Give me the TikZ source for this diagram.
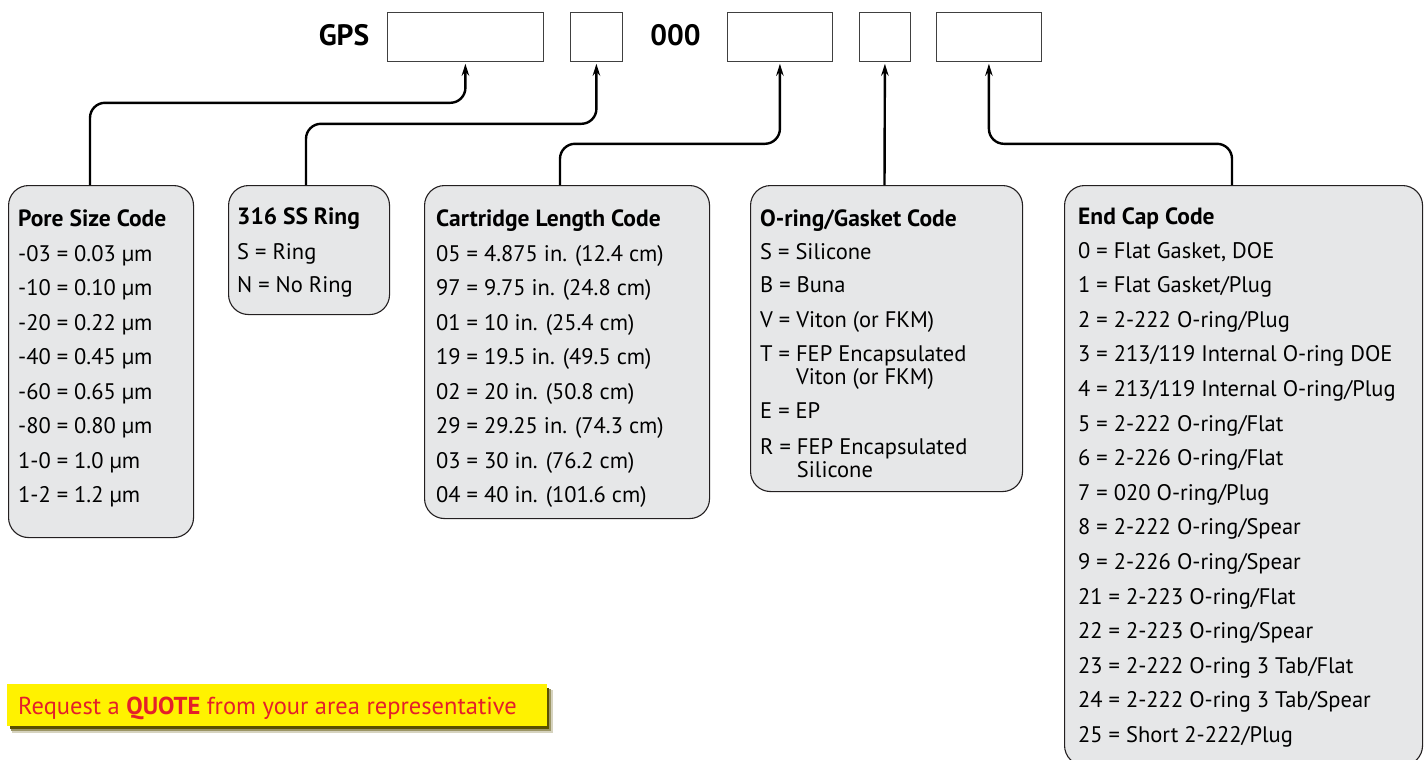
\documentclass[tikz,border=0pt]{standalone}
\usepackage{fontspec}
\setmainfont{PT Sans}
\usetikzlibrary{arrows.meta,calc}
\definecolor{boxgray}{HTML}{E6E7E8}
\definecolor{boxline}{HTML}{231F20}
\definecolor{quoteyellow}{HTML}{FFF200}
\definecolor{quotered}{HTML}{E4202A}
\definecolor{shadowol}{HTML}{5A5000}
\begin{document}
\begin{tikzpicture}[x=1pt,y=-1pt,
  codebox/.style={draw=boxline,line width=1.1pt,fill=boxgray,rounded corners=20pt,anchor=north west,inner sep=0pt},
  slot/.style={draw=black!75,line width=0.8pt,anchor=north west,inner sep=0pt,minimum height=49pt},
  conn/.style={line width=2.4pt,rounded corners=15pt,-{Stealth[length=12pt,width=7.5pt]}},
  ttl/.style={anchor=base west,inner sep=0pt,font=\fontsize{23.5}{28}\selectfont\bfseries},
  ln/.style={anchor=base west,inner sep=0pt,font=\fontsize{22.5}{27}\selectfont},
  big/.style={anchor=base,inner sep=0pt,font=\fontsize{29.5}{34}\selectfont\bfseries}]
\useasboundingbox (0,0) rectangle (1424,760);
% top code row
\node[big] (gps) at (344,46) {GPS};
\node[slot,minimum width=156pt] (b1) at (387,12) {};
\node[slot,minimum width=52pt] (b2) at (570,12) {};
\node[big] (zero) at (675.5,46) {000};
\node[slot,minimum width=105pt] (b3) at (727,12) {};
\node[slot,minimum width=51pt] (b4) at (859,12) {};
\node[slot,minimum width=105pt] (b5) at (936,12) {};
% code boxes
\node[codebox,minimum width=185pt,minimum height=352pt] (pore) at (8,185) {};
\node[codebox,minimum width=161pt,minimum height=129pt] (ring) at (228,185) {};
\node[codebox,minimum width=285pt,minimum height=333pt] (cart) at (424,185) {};
\node[codebox,minimum width=272pt,minimum height=306pt] (oring) at (750,185) {};
\node[codebox,minimum width=358pt,minimum height=580pt] (cap) at (1064,185) {};
% connectors
\coordinate (s1) at (90,185);
\coordinate (s2) at (306,185);
\coordinate (s3) at (560,185);
\coordinate (s4) at (884.5,185);
\coordinate (s5) at (1232,185);
\draw[conn] (s1) |- ($(b1.south)+(0,41)$) -- ([yshift=-2pt]b1.south);
\draw[conn] (s2) |- ($(b2.south)+(0,62)$) -- ([yshift=-2pt]b2.south);
\draw[conn] (s3) |- ($(b3.south)+(0,82)$) -- ([yshift=-2pt]b3.south);
\draw[conn] (s4) -- ([yshift=-2pt]b4.south);
\draw[conn] (s5) |- ($(b5.south)+(0,82)$) -- ([yshift=-2pt]b5.south);
% Pore size
\node[ttl] (pt) at (18,226) {Pore Size Code};
\node[ln] (p1) at (18,261) {-03 = 0.03 µm};
\node[ln] (p2) at (18,295.5) {-10 = 0.10 µm};
\node[ln] (p3) at (18,330) {-20 = 0.22 µm};
\node[ln] (p4) at (18,364.5) {-40 = 0.45 µm};
\node[ln] (p5) at (18,399) {-60 = 0.65 µm};
\node[ln] (p6) at (18,433.5) {-80 = 0.80 µm};
\node[ln] (p7) at (18,468) {1-0 = 1.0 µm};
\node[ln] (p8) at (18,502.5) {1-2 = 1.2 µm};
% 316 SS ring
\node[ttl] (rt) at (237,224) {316 SS Ring};
\node[ln] (r1) at (237,259) {S = Ring};
\node[ln] (r2) at (237,292) {N = No Ring};
% Cartridge length
\node[ttl] (ct) at (436,226) {Cartridge Length Code};
\node[ln] (c1) at (436,261) {05 = 4.875 in. (12.4 cm)};
\node[ln] (c2) at (436,295.5) {97 = 9.75 in. (24.8 cm)};
\node[ln] (c3) at (436,330) {01 = 10 in. (25.4 cm)};
\node[ln] (c4) at (436,364.5) {19 = 19.5 in. (49.5 cm)};
\node[ln] (c5) at (436,399) {02 = 20 in. (50.8 cm)};
\node[ln] (c6) at (436,433.5) {29 = 29.25 in. (74.3 cm)};
\node[ln] (c7) at (436,468) {03 = 30 in. (76.2 cm)};
\node[ln] (c8) at (436,502.5) {04 = 40 in. (101.6 cm)};
% O-ring
\node[ttl] (ot) at (760,226) {O-ring/Gasket Code};
\node[ln] (o1) at (760,259) {S = Silicone};
\node[ln] (o2) at (760,292) {B = Buna};
\node[ln] (o3) at (760,327) {V = Viton (or FKM)};
\node[ln] (o4) at (760,361) {T = FEP Encapsulated};
\node[ln] (o4b) at (760,384) {\phantom{T = }Viton (or FKM)};
\node[ln] (o5) at (760,418) {E = EP};
\node[ln] (o6) at (760,454) {R = FEP Encapsulated};
\node[ln] (o6b) at (760,477) {\phantom{R = }Silicone};
% End cap
\node[ttl] (et) at (1078,224) {End Cap Code};
\node[ln] (e0) at (1078,258) {0 = Flat Gasket, DOE};
\node[ln] (e1) at (1078,292.6) {1 = Flat Gasket/Plug};
\node[ln] (e2) at (1078,327.2) {2 = 2-222 O-ring/Plug};
\node[ln] (e3) at (1078,361.8) {3 = 213/119 Internal O-ring DOE};
\node[ln] (e4) at (1078,396.4) {4 = 213/119 Internal O-ring/Plug};
\node[ln] (e5) at (1078,431) {5 = 2-222 O-ring/Flat};
\node[ln] (e6) at (1078,465.6) {6 = 2-226 O-ring/Flat};
\node[ln] (e7) at (1078,500.2) {7 = 020 O-ring/Plug};
\node[ln] (e8) at (1078,534.8) {8 = 2-222 O-ring/Spear};
\node[ln] (e9) at (1078,569.4) {9 = 2-226 O-ring/Spear};
\node[ln] (e21) at (1078,604) {21 = 2-223 O-ring/Flat};
\node[ln] (e22) at (1078,638.6) {22 = 2-223 O-ring/Spear};
\node[ln] (e23) at (1078,673.2) {23 = 2-222 O-ring 3 Tab/Flat};
\node[ln] (e24) at (1078,707.8) {24 = 2-222 O-ring 3 Tab/Spear};
\node[ln] (e25) at (1078,742.4) {25 = Short 2-222/Plug};
% quote button
\fill[shadowol!25] (12,690) rectangle (553,733);
\fill[shadowol!60] (11,689) rectangle (551,731);
\fill[shadowol] (10,688) rectangle (549,729);
\node[fill=quoteyellow,anchor=north west,minimum width=540pt,minimum height=42pt,inner sep=0pt] (quote) at (7,684) {};
\node[anchor=base west,inner sep=0pt,font=\fontsize{24.5}{29}\selectfont,text=quotered] (qt) at (18,714) {Request a \textbf{QUOTE} from your area representative};
\end{tikzpicture}
\end{document}
